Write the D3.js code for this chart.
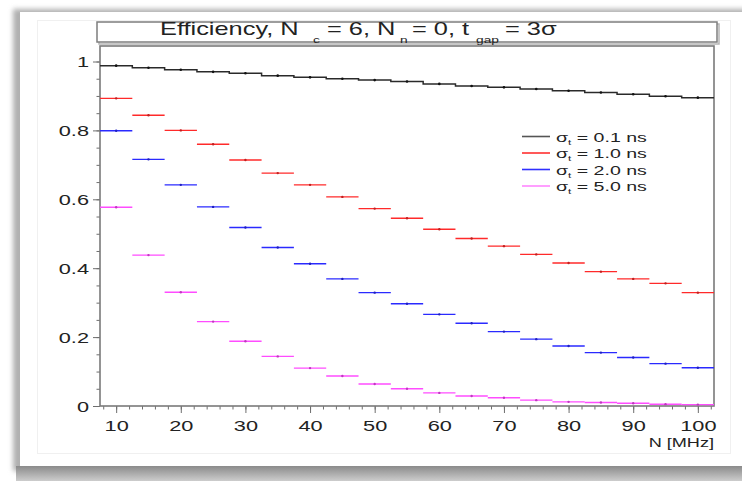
<!DOCTYPE html>
<html>
<head>
<meta charset="utf-8">
<script src="https://cdn.jsdelivr.net/npm/d3@7"></script>
<style>
  html, body { margin: 0; padding: 0; background: #fff; }
  svg { display: block; }
  text { font-family: "Liberation Sans", Arial, Helvetica, sans-serif; fill: #222; }
</style>
</head>
<body>
<svg id="chart" width="742" height="481"></svg>
<script>
// Bin centres of the rate histogram, N [MHz] (bin width 5)
const binCenters = [10, 15, 20, 25, 30, 35, 40, 45, 50, 55, 60, 65, 70, 75, 80, 85, 90, 95, 100];
const binWidth = 5;

// Efficiency per bin for each time resolution
const effSigma01 = [0.988, 0.982, 0.976, 0.970, 0.966, 0.959, 0.954, 0.950, 0.946, 0.942, 0.935, 0.929, 0.925, 0.920, 0.915, 0.910, 0.905, 0.899, 0.895];
const effSigma10 = [0.893, 0.844, 0.800, 0.760, 0.714, 0.676, 0.642, 0.607, 0.573, 0.545, 0.513, 0.486, 0.464, 0.440, 0.415, 0.390, 0.369, 0.356, 0.329];
const effSigma20 = [0.799, 0.716, 0.642, 0.578, 0.518, 0.460, 0.413, 0.369, 0.329, 0.297, 0.266, 0.240, 0.216, 0.194, 0.174, 0.155, 0.141, 0.123, 0.111];
const effSigma50 = [0.577, 0.438, 0.330, 0.245, 0.188, 0.144, 0.110, 0.087, 0.064, 0.050, 0.038, 0.029, 0.024, 0.017, 0.012, 0.010, 0.008, 0.005, 0.004];

// Legend labels (σ_t values)
const sigmaLabels = ["0.1", "1.0", "2.0", "5.0"];

// Axis ticks
const xTickValues = [10, 20, 30, 40, 50, 60, 70, 80, 90, 100];
const xMinorTicks = d3.range(8, 103, 2);
const yTickValues = [0, 0.2, 0.4, 0.6, 0.8, 1];
const yMinorTicks = d3.range(0, 1.05, 0.05);

const seriesColors = ["#2a2a2a", "#ff2a2a", "#2a2aff", "#ff4cff"];
const legendLineColors = ["#555555", "#ff3030", "#3030ff", "#ff88ff"];

const SX = 1.45; // horizontal glyph stretch used by all labels

const svg = d3.select("#chart");
const W = 742, H = 481;
const plot = { left: 100, right: 714, top: 46, bottom: 406 };

const x = d3.scaleLinear().domain([7.5, 102.5]).range([plot.left, plot.right]);
const y = d3.scaleLinear().domain([0, 1.045]).range([plot.bottom, plot.top]);

// ---------- page card with shadow ----------
const defs = svg.append("defs");
const blur = defs.append("filter").attr("id", "soft").attr("x", "-50%").attr("y", "-50%").attr("width", "200%").attr("height", "200%");
blur.append("feGaussianBlur").attr("stdDeviation", 2.5);
const bottomGrad = defs.append("linearGradient").attr("id", "bottomShade").attr("x1", 0).attr("y1", 0).attr("x2", 0).attr("y2", 1);
bottomGrad.append("stop").attr("offset", "0%").attr("stop-color", "#8a8a8a");
bottomGrad.append("stop").attr("offset", "100%").attr("stop-color", "#cdcdcd");

svg.append("rect").attr("x", 0).attr("y", 0).attr("width", W).attr("height", H).attr("fill", "#fff");
svg.append("rect").attr("x", 13).attr("y", 9).attr("width", 740).attr("height", 462)
  .attr("fill", "#b0b0b0").attr("filter", "url(#soft)");
svg.append("rect").attr("x", 16).attr("y", 466).attr("width", 740).attr("height", 15)
  .attr("fill", "url(#bottomShade)");
svg.append("rect").attr("x", 20).attr("y", 12).attr("width", 730).attr("height", 454).attr("fill", "#fff");
svg.append("rect").attr("x", 37.5).attr("y", 20.5).attr("width", 693).attr("height", 433)
  .attr("fill", "none").attr("stroke", "#f0f0f0").attr("stroke-width", 1);

// ---------- title box ----------
svg.append("rect").attr("x", 99).attr("y", 24).attr("width", 620).attr("height", 20)
  .attr("fill", "none").attr("stroke", "#b5b5b5").attr("stroke-width", 1.5);
svg.append("rect").attr("x", 97).attr("y", 22).attr("width", 620).attr("height", 20)
  .attr("fill", "#fff").attr("stroke", "#7e7e7e").attr("stroke-width", 1.5);

const titleParts = [
  { t: "Efficiency, N", x: 160, sub: false },
  { t: "c", x: 313, sub: true },
  { t: "= 6, N", x: 327, sub: false },
  { t: "n", x: 400, sub: true },
  { t: "= 0, t", x: 412, sub: false },
  { t: "gap", x: 476, sub: true },
  { t: "= 3σ", x: 505, sub: false }
];
svg.append("g").selectAll("text").data(titleParts).join("text")
  .attr("transform", d => `translate(${d.x},${d.sub ? 43 : 35}) scale(${SX},1)`)
  .style("font-size", d => d.sub ? "9.5px" : "17.5px")
  .text(d => d.t);

// ---------- axes ----------
const axisColor = "#6e6e6e";

const gx = svg.append("g").attr("transform", `translate(0,${plot.bottom})`);
gx.call(d3.axisBottom(x).tickValues(xMinorTicks).tickSize(3.5).tickFormat(""));
gx.call(g => g.selectAll(".tick line").attr("stroke", axisColor));
const gxMajor = svg.append("g").attr("transform", `translate(0,${plot.bottom})`);
gxMajor.call(d3.axisBottom(x).tickValues(xTickValues).tickSize(7).tickPadding(5));
gxMajor.selectAll(".tick line").attr("stroke", axisColor);
gxMajor.selectAll(".tick text")
  .attr("y", 0).attr("dy", 0)
  .attr("transform", `translate(0,25) scale(${SX},1)`)
  .style("font-size", "15px").style("font-family", "Liberation Sans, Arial, sans-serif").attr("fill", "#222");
svg.selectAll(".domain").remove();

const gy = svg.append("g").attr("transform", `translate(${plot.left},0)`);
gy.call(d3.axisLeft(y).tickValues(yMinorTicks).tickSize(3.5).tickFormat(""));
gy.selectAll(".tick line").attr("stroke", axisColor);
const gyMajor = svg.append("g").attr("transform", `translate(${plot.left},0)`);
gyMajor.call(d3.axisLeft(y).tickValues(yTickValues).tickSize(7).tickFormat(d3.format("~g")));
gyMajor.selectAll(".tick line").attr("stroke", axisColor);
gyMajor.selectAll(".tick text")
  .attr("x", 0).attr("dy", "0.36em")
  .attr("transform", `translate(-11,0) scale(${SX},1)`)
  .style("font-size", "15px").style("font-family", "Liberation Sans, Arial, sans-serif").attr("fill", "#222");
svg.selectAll(".domain").remove();

// frame
svg.append("rect")
  .attr("x", plot.left).attr("y", plot.top)
  .attr("width", plot.right - plot.left).attr("height", plot.bottom - plot.top)
  .attr("fill", "none").attr("stroke", "#7a7a7a").attr("stroke-width", 1.6);

// x-axis title
svg.append("text")
  .attr("transform", `translate(${plot.right},447) scale(${SX},1)`)
  .attr("text-anchor", "end")
  .style("font-size", "12.5px")
  .text("N [MHz]");

// ---------- data ----------
const clipId = "plotClip";
defs.append("clipPath").attr("id", clipId).append("rect")
  .attr("x", plot.left).attr("y", plot.top)
  .attr("width", plot.right - plot.left).attr("height", plot.bottom - plot.top);
const gData = svg.append("g").attr("clip-path", `url(#${clipId})`);

// σ_t = 0.1 ns drawn as a continuous step outline
const stepPts = [];
binCenters.forEach((c, i) => {
  stepPts.push([c - binWidth / 2, effSigma01[i]]);
  stepPts.push([c + binWidth / 2, effSigma01[i]]);
});
gData.append("path")
  .datum(stepPts)
  .attr("fill", "none")
  .attr("stroke", seriesColors[0])
  .attr("stroke-width", 1.5)
  .attr("d", d3.line().x(d => x(d[0])).y(d => y(d[1])));
gData.append("g").selectAll("circle").data(binCenters).join("circle")
  .attr("cx", c => x(c)).attr("cy", (c, i) => y(effSigma01[i]))
  .attr("r", 1.3).attr("fill", "#111");

// other resolutions drawn as per-bin horizontal bars with centre markers
const barSeries = [effSigma10, effSigma20, effSigma50];
barSeries.forEach((vals, k) => {
  const color = seriesColors[k + 1];
  const g = gData.append("g");
  g.selectAll("line").data(binCenters).join("line")
    .attr("x1", c => x(c - binWidth / 2)).attr("x2", c => x(c + binWidth / 2))
    .attr("y1", (c, i) => y(vals[i])).attr("y2", (c, i) => y(vals[i]))
    .attr("stroke", color).attr("stroke-width", 1.4);
  g.selectAll("circle").data(binCenters).join("circle")
    .attr("cx", c => x(c)).attr("cy", (c, i) => y(vals[i]))
    .attr("r", 1.2).attr("fill", d3.color(color).darker(0.8));
});

// ---------- legend ----------
const legend = svg.append("g");
const rowY = [136.5, 153, 169.5, 186];
sigmaLabels.forEach((lab, i) => {
  legend.append("line")
    .attr("x1", 522).attr("x2", 550).attr("y1", rowY[i]).attr("y2", rowY[i])
    .attr("stroke", legendLineColors[i]).attr("stroke-width", 1.6);
  const t = legend.append("text")
    .attr("transform", `translate(556,${rowY[i] + 5}) scale(${SX},1)`)
    .style("font-size", "13.5px");
  t.append("tspan").text("σ");
  t.append("tspan").attr("dy", 3).style("font-size", "8px").text("t");
  t.append("tspan").attr("dy", -3).text(` = ${lab} ns`);
});
</script>
</body>
</html>
